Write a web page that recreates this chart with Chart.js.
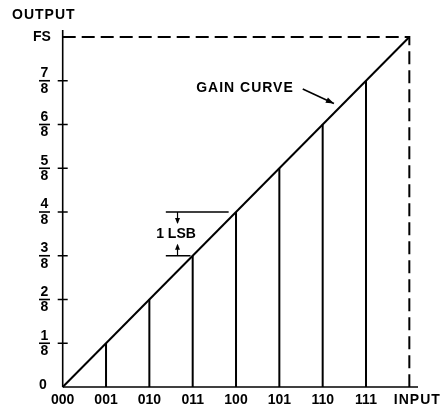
<!DOCTYPE html>
<html><head><meta charset="utf-8">
<style>html,body{margin:0;padding:0;background:#fff}canvas{display:block}</style>
<script src="https://cdn.jsdelivr.net/npm/chart.js@4.4.1/dist/chart.umd.min.js"></script>
</head><body>
<canvas id="c" width="446" height="409"></canvas>
<script>
// ---- data ----
const inputCodes = ['000','001','010','011','100','101','110','111'];
const inputTitle = 'INPUT';
const outputTitle = 'OUTPUT';
const outputTickLabels = ['0','1/8','2/8','3/8','4/8','5/8','6/8','7/8','FS'];
const codeOutputs = [0,1,2,3,4,5,6,7];      // output level (eighths of FS) for each code
const fullScale = 8;
const gainCurve = [{x:0,y:0},{x:8,y:8}];
const lsbLevels = [3,4];
const gainLabel = 'GAIN CURVE';
const lsbLabel = '1 LSB';

// ---- build datasets ----
const barPts = [];
codeOutputs.forEach((v,i)=>{ if(v>0){ barPts.push({x:i,y:0},{x:i,y:v},{x:i,y:null}); } });
const fsPts = [{x:0,y:fullScale},{x:fullScale,y:fullScale},{x:fullScale,y:0}];
const lsbPts = [{x:2.38,y:lsbLevels[1]},{x:3.83,y:lsbLevels[1]},{x:2.38,y:null},
                {x:2.38,y:lsbLevels[0]},{x:2.95,y:lsbLevels[0]}];

const FONT = 'bold 14px "Liberation Sans", Arial, sans-serif';

function seg(ctx,a,b,c,d){ctx.beginPath();ctx.moveTo(a,b);ctx.lineTo(c,d);ctx.stroke();}
function arrowHead(ctx,x1,y1,x2,y2,len,w){
  const ang=Math.atan2(y2-y1,x2-x1);
  ctx.beginPath();
  ctx.moveTo(x2,y2);
  ctx.lineTo(x2-len*Math.cos(ang)+w*Math.sin(ang), y2-len*Math.sin(ang)-w*Math.cos(ang));
  ctx.lineTo(x2-len*Math.cos(ang)-w*Math.sin(ang), y2-len*Math.sin(ang)+w*Math.cos(ang));
  ctx.closePath();ctx.fill();
}

const decor = {
  id:'decor',
  afterDatasetsDraw(chart){
    const {ctx, scales:{x,y}, chartArea} = chart;
    ctx.save();
    ctx.strokeStyle='#000'; ctx.fillStyle='#000';
    const x0=x.getPixelForValue(0), y0=y.getPixelForValue(0);
    // axes
    ctx.lineWidth=1.6;
    seg(ctx,x0,y0,x0,chartArea.top);
    seg(ctx,x0,y0,chartArea.right,y0);
    // y ticks + labels
    ctx.font=FONT; ctx.textAlign='center'; ctx.textBaseline='middle';
    ctx.letterSpacing='0px';
    const cx=44.5;
    outputTickLabels.forEach((lab,i)=>{
      const py=y.getPixelForValue(i);
      ctx.lineWidth=1.5;
      if(i>0 && i<outputTickLabels.length-1) seg(ctx,x0-5,py,x0+5,py);
      if(i===outputTickLabels.length-1) seg(ctx,x0,py,x0+6,py);
      if(lab.includes('/')){
        const [n,d]=lab.split('/');
        ctx.fillText(n,cx,py-7.5);
        ctx.lineWidth=1.6; seg(ctx,cx-5.5,py,cx+5.5,py);
        ctx.fillText(d,cx,py+8);
      } else {
        ctx.fillText(lab, lab==='FS'?42:43, i===0?py-2:py);
      }
    });
    // x labels
    inputCodes.forEach((lab,i)=>{
      ctx.fillText(lab,x.getPixelForValue(i),400);
    });
    ctx.letterSpacing='1px';
    ctx.fillText(inputTitle,x.getPixelForValue(fullScale)+8,400);
    ctx.textAlign='left';
    ctx.fillText(outputTitle,12,15);
    // gain curve label + arrow
    ctx.textAlign='right';
    ctx.fillText(gainLabel,x.getPixelForValue(5.31)+1,y.getPixelForValue(6.83));
    ctx.letterSpacing='0px';
    const ax1=x.getPixelForValue(5.54), ay1=y.getPixelForValue(6.81);
    const ax2=x.getPixelForValue(6.26), ay2=y.getPixelForValue(6.48);
    ctx.lineWidth=1.6; seg(ctx,ax1,ay1,ax2,ay2);
    arrowHead(ctx,ax1,ay1,ax2,ay2,8,3);
    // LSB arrows
    const lx=x.getPixelForValue(2.65);
    const ty=y.getPixelForValue(lsbLevels[1]), by=y.getPixelForValue(lsbLevels[0]);
    ctx.lineWidth=1.2;
    seg(ctx,lx,ty,lx,ty+11); arrowHead(ctx,lx,ty,lx,ty+12,6,2.5);
    seg(ctx,lx,by,lx,by-11); arrowHead(ctx,lx,by,lx,by-12,6,2.5);
    ctx.textAlign='center';
    ctx.fillText(lsbLabel,176,(ty+by)/2);
    ctx.restore();
  }
};

new Chart(document.getElementById('c'),{
  type:'scatter',
  data:{datasets:[
    {data:gainCurve, showLine:true, borderColor:'#000', borderWidth:2, pointRadius:0, clip:false},
    {data:barPts, showLine:true, spanGaps:false, borderColor:'#000', borderWidth:2, pointRadius:0, clip:false},
    {data:fsPts, showLine:true, borderColor:'#000', borderWidth:2, borderDash:[13,6], pointRadius:0, clip:false},
    {data:lsbPts, showLine:true, spanGaps:false, borderColor:'#000', borderWidth:1.3, pointRadius:0, clip:false}
  ]},
  options:{
    responsive:false, animation:false,
    layout:{padding:{left:62.7,right:28,top:30,bottom:22}},
    plugins:{legend:{display:false},tooltip:{enabled:false}},
    scales:{
      x:{type:'linear',min:0,max:8.2,display:false},
      y:{type:'linear',min:0,max:8.16,display:false}
    }
  },
  plugins:[decor]
});
</script>
</body></html>
